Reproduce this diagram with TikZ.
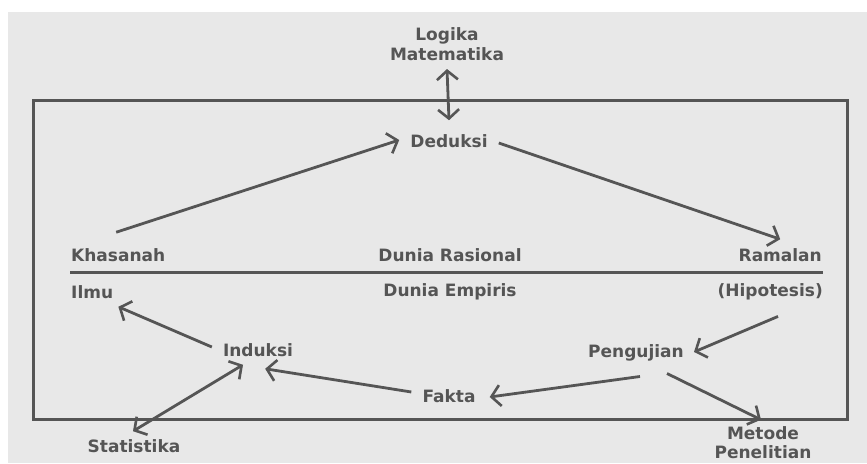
\documentclass[tikz,border=0pt]{standalone}
\usepackage{fontspec}
\setmainfont{DejaVu Sans}
\usetikzlibrary{arrows.meta}
\definecolor{ink}{HTML}{555555}
\definecolor{paper}{HTML}{E8E8E8}
\begin{document}
\begin{tikzpicture}[x=1pt,y=-1pt,
  lbl/.style={inner sep=0pt,text=ink,font=\fontsize{17}{20.5}\selectfont\bfseries},
  arr/.style={draw=ink,line width=2.8pt,-{Straight Barb[length=9pt,width=21pt,line width=2.6pt]}},
  dbl/.style={draw=ink,line width=2.8pt,{Straight Barb[length=9pt,width=21pt,line width=2.6pt]}-{Straight Barb[length=9pt,width=21pt,line width=2.6pt]}},
  frame/.style={draw=ink,line width=3pt}]
% canvas
\useasboundingbox (0,0) rectangle (867,463);
\fill[white] (0,0) rectangle (867,463);
\fill[paper] (8,12) rectangle (867,463);
% frame and divider between the two worlds
\draw[frame] (33,100) rectangle (847,419);
\coordinate (divL) at (70,272);
\coordinate (divR) at (823,272);
\draw[frame] (divL) -- (divR);
% labels
\node[lbl,align=center] (logika) at (447,44) {Logika\\Matematika};
\node[lbl] (ded) at (449,141) {Deduksi};
\node[lbl,anchor=west] (khas) at (71,255) {Khasanah};
\node[lbl] (rasional) at (450,255) {Dunia Rasional};
\node[lbl,anchor=east] (ramal) at (822,255) {Ramalan};
\node[lbl,anchor=west] (ilmu) at (71,292) {Ilmu};
\node[lbl] (empiris) at (450,292) {Dunia Empiris};
\node[lbl,anchor=east] (hipo) at (823,292) {(Hipotesis)};
\node[lbl] (induksi) at (258,350) {Induksi};
\node[lbl] (uji) at (636,353) {Pengujian};
\node[lbl] (fakta) at (449,396) {Fakta};
\node[lbl] (stat) at (134,446) {Statistika};
\node[lbl,align=center,font=\fontsize{17}{19}\selectfont\bfseries] (metode) at (763,443) {Metode\\Penelitian};
% connectors
\draw[dbl] ([yshift=-8pt]logika.south) -- ([yshift=14pt]ded.north);
\draw[arr] ([shift={(-2pt,16pt)}]khas.north) -- ([shift={(-11pt,1pt)}]ded.west);
\draw[arr] ([shift={(11pt,-2pt)}]ded.east) -- ([shift={(0pt,9pt)}]ramal.north);
\draw[arr] ([shift={(-45pt,-16pt)}]hipo.south east) -- ([shift={(10pt,1pt)}]uji.east);
\draw[arr] ([shift={(4pt,-15pt)}]uji.south) -- ([shift={(14pt,-1pt)}]fakta.east);
\draw[arr] ([shift={(-11pt,4pt)}]fakta.west) -- ([shift={(-28pt,-12pt)}]induksi.south east);
\draw[arr] ([shift={(-11pt,3pt)}]induksi.west) -- ([shift={(5pt,-8pt)}]ilmu.south east);
\draw[dbl] ([shift={(-1pt,8pt)}]stat.north) -- ([shift={(-15pt,-8pt)}]induksi.south);
\draw[arr] ([shift={(31pt,-12pt)}]uji.south) -- ([shift={(-2pt,7pt)}]metode.north);
\end{tikzpicture}
\end{document}
